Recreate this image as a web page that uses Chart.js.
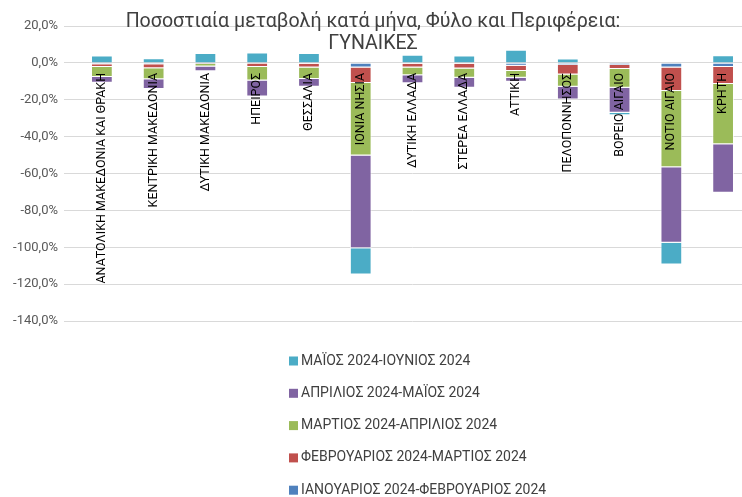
<!DOCTYPE html>
<html>
<head>
<meta charset="utf-8">
<script src="https://cdn.jsdelivr.net/npm/chart.js@4.4.1/dist/chart.umd.min.js"></script>
<style>
html, body { margin: 0; padding: 0; background: #fff; overflow: hidden; }
</style>
</head>
<body>
<canvas id="myChart" width="752" height="497"></canvas>
<script>
// Categories (regions)
var regions = [
    'ΑΝΑΤΟΛΙΚΗ ΜΑΚΕΔΟΝΙΑ ΚΑΙ ΘΡΑΚΗ', 'ΚΕΝΤΡΙΚΗ ΜΑΚΕΔΟΝΙΑ', 'ΔΥΤΙΚΗ ΜΑΚΕΔΟΝΙΑ', 'ΗΠΕΙΡΟΣ',
    'ΘΕΣΣΑΛΙΑ', 'ΙΟΝΙΑ ΝΗΣΙΑ', 'ΔΥΤΙΚΗ ΕΛΛΑΔΑ', 'ΣΤΕΡΕΑ ΕΛΛΑΔΑ', 'ΑΤΤΙΚΗ',
    'ΠΕΛΟΠΟΝΝΗΣΟΣ', 'ΒΟΡΕΙΟ ΑΙΓΑΙΟ', 'ΝΟΤΙΟ ΑΙΓΑΙΟ', 'ΚΡΗΤΗ'
];

// Series values (% change per month)
var janFeb = [-0.7, -0.7, -0.2, -0.4, -0.5, -2.5, -0.5, -0.5, -1.5, -1.2, -1.1, -2.5, -2.2];
var febMar = [-1.6, -2.2, -0.3, -1.8, -2.0, -8.4, -2.0, -2.5, -2.9, -5.1, -2.2, -12.7, -9.3];
var marApr = [-5.4, -6.0, -1.4, -7.3, -6.2, -39.4, -4.2, -5.1, -3.6, -6.7, -10.2, -41.4, -32.7];
var aprMay = [-3.1, -5.3, -2.7, -8.7, -4.2, -50.3, -4.4, -5.4, -2.2, -6.9, -13.6, -40.9, -26.3];
var mayJun = [4.0, 2.5, 5.4, 5.6, 5.3, -14.2, 4.4, 4.0, 7.1, 2.4, -1.3, -11.8, 4.2];

var seriesNames = [
    'ΙΑΝΟΥΑΡΙΟΣ 2024-ΦΕΒΡΟΥΑΡΙΟΣ 2024',
    'ΦΕΒΡΟΥΑΡΙΟΣ 2024-ΜΑΡΤΙΟΣ 2024',
    'ΜΑΡΤΙΟΣ 2024-ΑΠΡΙΛΙΟΣ 2024',
    'ΑΠΡΙΛΙΟΣ 2024-ΜΑΪΟΣ 2024',
    'ΜΑΪΟΣ 2024-ΙΟΥΝΙΟΣ 2024'
];
var seriesColors = ['#4F81BD', '#C0504D', '#9BBB59', '#8064A2', '#4BACC6'];

var titleLines = ['Ποσοστιαία μεταβολή κατά μήνα, Φύλο και Περιφέρεια:', 'ΓΥΝΑΙΚΕΣ'];

// Y axis range
var yMin = -140, yMax = 20, yStep = 20;

var fontFamily = 'Roboto, "Noto Sans", sans-serif';

// Title drawn over the plot, like the original
var titlePlugin = {
    id: 'overlayTitle',
    afterDraw: function (c) {
        var ctx = c.ctx;
        ctx.save();
        ctx.font = '19.6px ' + fontFamily;
        ctx.fillStyle = '#404040';
        ctx.textAlign = 'center';
        ctx.textBaseline = 'middle';
        ctx.fillText(titleLines[0], 373, 22);
        ctx.fillText(titleLines[1], 373, 44);
        ctx.restore();
    }
};

// Vertical legend under the chart, last series first
var legendPlugin = {
    id: 'stackLegend',
    afterDraw: function (c) {
        var ctx = c.ctx;
        var ds = c.data.datasets;
        ctx.save();
        ctx.font = '14px ' + fontFamily;
        ctx.textBaseline = 'middle';
        for (var i = 0; i < ds.length; i++) {
            var d = ds[ds.length - 1 - i];
            var y = 361 + i * 32.3;
            ctx.fillStyle = d.backgroundColor;
            ctx.fillRect(289, y - 4.5, 9, 9);
            ctx.fillStyle = '#404040';
            ctx.fillText(d.label, 301, y);
        }
        ctx.restore();
    }
};

var seriesData = [janFeb, febMar, marApr, aprMay, mayJun];
var datasets = seriesData.map(function (vals, i) {
    return {
        label: seriesNames[i],
        data: vals,
        backgroundColor: seriesColors[i],
        borderColor: 'rgba(255,255,255,0.7)',
        borderWidth: 1,
        stack: 's'
    };
});

var ctx = document.getElementById('myChart').getContext('2d');
var chart = new Chart(ctx, {
    type: 'bar',
    data: { labels: regions, datasets: datasets },
    plugins: [titlePlugin, legendPlugin],
    options: {
        responsive: false,
        animation: false,
        layout: { padding: { top: 26, bottom: 176, left: 0, right: 3 } },
        datasets: { bar: { barPercentage: 0.42, categoryPercentage: 1 } },
        plugins: {
            legend: { display: false },
            title: { display: false },
            tooltip: { enabled: false }
        },
        scales: {
            x: {
                stacked: true,
                position: { y: 0 },
                grid: { display: false },
                border: { display: false },
                ticks: {
                    z: 1,  // category names sit on top of the bars
                    autoSkip: false,
                    maxRotation: 90,
                    minRotation: 90,
                    padding: 2,
                    color: '#000',
                    font: { family: fontFamily, size: 12.5 }
                }
            },
            y: {
                stacked: true,
                min: yMin,
                max: yMax,
                afterFit: function (s) { s.width = 76; },
                border: { display: false },
                grid: { color: '#d9d9d9', drawTicks: true, tickLength: 12 },
                ticks: {
                    stepSize: yStep,
                    padding: 6,
                    color: '#595959',
                    font: { family: fontFamily, size: 13 },
                    callback: function (v) { return v.toFixed(1).replace('.', ',') + '%'; }
                }
            }
        }
    }
});
</script>
</body>
</html>
